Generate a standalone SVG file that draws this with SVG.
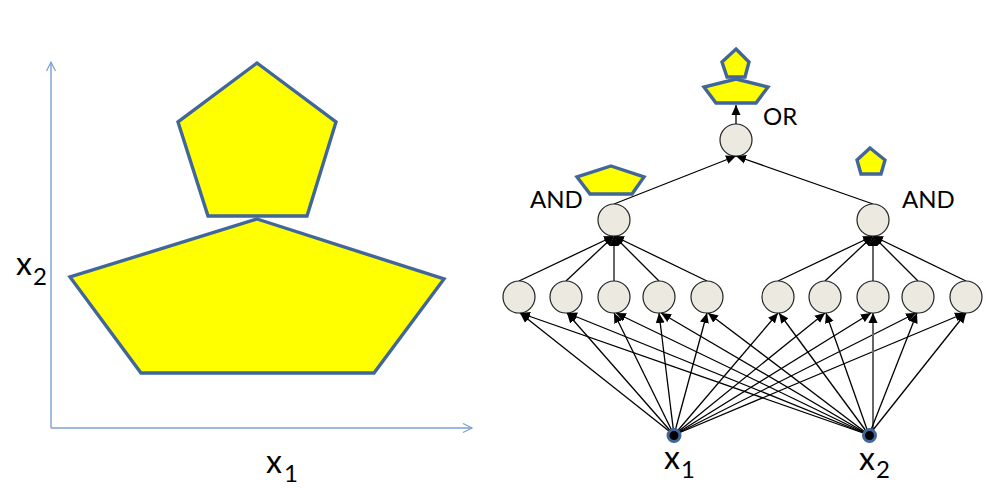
<svg xmlns="http://www.w3.org/2000/svg" width="999" height="497" viewBox="0 0 999 497">
<style>
.pent{fill:#ffff00;stroke:#41669a;stroke-width:3.4;stroke-linejoin:miter}
.ax{fill:none;stroke:#7ba0d4;stroke-width:1.4}
.c{fill:none;stroke:#000;stroke-width:1.3}
.g{stroke:#666;stroke-width:2}
.a{marker-end:url(#ah)}
.n{fill:#ebe9e0;stroke:#222;stroke-width:1.2}
.inp{fill:#000;stroke:#41669a;stroke-width:3}
text{font-family:Lato,"Open Sans",sans-serif;fill:#000}
.v{font-size:32px}
.s{font-size:24px}
.l{font-size:24px}
</style>
<defs>
<marker id="ah" markerUnits="userSpaceOnUse" markerWidth="11" markerHeight="10" refX="10" refY="5" orient="auto"><path d="M0,0.5 L10,5 L0,9.5 Z" fill="#000"/></marker>
<marker id="ax" markerUnits="userSpaceOnUse" markerWidth="12" markerHeight="12" refX="10" refY="5" orient="auto"><path d="M1,0.5 L10,5 L1,9.5" fill="none" stroke="#7ba0d4" stroke-width="1.2"/></marker>
</defs>
<g id="plot">
<path class="ax" d="M51,428 L51,62" marker-end="url(#ax)"/>
<path class="ax" d="M51,428 L472,428" marker-end="url(#ax)"/>
<polygon class="pent" points="257,63 336,122 307,216 208,216 178,122"/>
<polygon class="pent" points="257,219 444,279 374,373 141,373 70,277"/>
<text class="v" x="16" y="275">x</text><text class="s" x="33" y="285">2</text>
<text class="v" x="266" y="473">x</text><text class="s" x="284" y="482">1</text>
</g>
<g id="connectors">
<g class="c">
<path class="a" d="M736,124 L736,105"/>
<path class="a" d="M614,204 L736,156"/>
<path class="a" d="M873,204 L736,156"/>
<path class="a" d="M519,281 L614,236"/>
<path class="a" d="M566,281 L614,236"/>
<path class="a g" d="M614,281 L614,236"/>
<path class="a" d="M659,281 L614,236"/>
<path class="a" d="M707,281 L614,236"/>
<path class="a" d="M778,281 L873,236"/>
<path class="a" d="M825,281 L873,236"/>
<path class="a g" d="M873,281 L873,236"/>
<path class="a" d="M918,281 L873,236"/>
<path class="a" d="M966,281 L873,236"/>
<path class="a" d="M674,435 L520,313"/>
<path class="a" d="M674,435 L567,313"/>
<path class="a" d="M674,435 L614,313"/>
<path class="a" d="M674,435 L659,313"/>
<path class="a" d="M674,435 L707,313"/>
<path class="a" d="M674,435 L778,313"/>
<path class="a" d="M674,435 L825,313"/>
<path class="a" d="M674,435 L871,313"/>
<path class="a" d="M674,435 L916,313"/>
<path class="a" d="M674,435 L965,313"/>
<path class="a" d="M869,435 L520,313"/>
<path class="a" d="M869,435 L567,313"/>
<path class="a" d="M869,435 L616,313"/>
<path class="a" d="M869,435 L661,313"/>
<path class="a" d="M869,435 L708,313"/>
<path class="a" d="M869,435 L779,313"/>
<path class="a" d="M869,435 L826,313"/>
<path class="a g" d="M873,435 L873,313"/>
<path class="a" d="M869,435 L917,313"/>
<path class="a" d="M869,435 L966,313"/>
</g>
</g>
<g id="or-node"><circle class="n" cx="736" cy="140" r="16"/><text class="l" x="763" y="125">OR</text></g>
<g id="or-shape">
<polygon class="pent" points="736,49 749,62 745,77 727,77 722,62"/>
<polygon class="pent" points="736,79 768,87 756,103 716,103 704,87"/>
</g>
<g id="and-left"><circle class="n" cx="614" cy="220" r="16"/><text class="l" x="530" y="208">AND</text></g>
<g id="and-left-shape"><polygon class="pent" points="611,166 644,177 632,194 590,194 577,177"/></g>
<g id="and-right"><circle class="n" cx="873" cy="220" r="16"/><text class="l" x="902" y="208">AND</text></g>
<g id="and-right-shape"><polygon class="pent" points="870,148 885,160 881,174 861,174 857,160"/></g>
<g id="h1"><circle class="n" cx="519" cy="297" r="16"/></g>
<g id="h2"><circle class="n" cx="566" cy="297" r="16"/></g>
<g id="h3"><circle class="n" cx="614" cy="297" r="16"/></g>
<g id="h4"><circle class="n" cx="659" cy="297" r="16"/></g>
<g id="h5"><circle class="n" cx="707" cy="297" r="16"/></g>
<g id="h6"><circle class="n" cx="778" cy="297" r="16"/></g>
<g id="h7"><circle class="n" cx="825" cy="297" r="16"/></g>
<g id="h8"><circle class="n" cx="873" cy="297" r="16"/></g>
<g id="h9"><circle class="n" cx="918" cy="297" r="16"/></g>
<g id="h10"><circle class="n" cx="966" cy="297" r="16"/></g>
<g id="input-x1"><circle class="inp" cx="674" cy="435.5" r="6"/><text class="v" x="664" y="469">x</text><text class="s" x="681" y="478">1</text></g>
<g id="input-x2"><circle class="inp" cx="869.5" cy="435.5" r="6"/><text class="v" x="859" y="470">x</text><text class="s" x="876" y="478">2</text></g>
</svg>
